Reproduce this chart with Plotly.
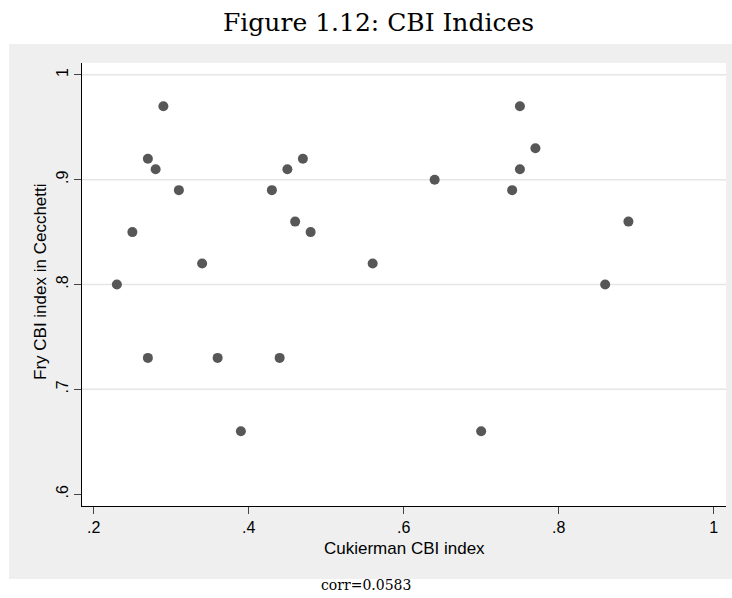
import plotly.graph_objects as go

# Central bank independence: Cukierman index vs. Fry index (Cecchetti)
cukierman = [0.23, 0.25, 0.27, 0.27, 0.28, 0.29, 0.31, 0.34, 0.36, 0.39,
             0.43, 0.44, 0.45, 0.46, 0.47, 0.48, 0.56, 0.64, 0.70, 0.74,
             0.75, 0.75, 0.77, 0.86, 0.89]
fry = [0.80, 0.85, 0.92, 0.73, 0.91, 0.97, 0.89, 0.82, 0.73, 0.66,
       0.89, 0.73, 0.91, 0.86, 0.92, 0.85, 0.82, 0.90, 0.66, 0.89,
       0.97, 0.91, 0.93, 0.80, 0.86]

x_ticks = [0.2, 0.4, 0.6, 0.8, 1.0]
x_tick_text = [".2", ".4", ".6", ".8", "1"]
y_ticks = [0.6, 0.7, 0.8, 0.9, 1.0]
y_tick_text = [".6", ".7", ".8", ".9", "1"]
y_grid = [0.7, 0.8, 0.9, 1.0]

title_text = "Figure 1.12: CBI Indices"
x_title = "Cukierman CBI index"
y_title = "Fry CBI index in Cecchetti"
caption = "corr=0.0583"

W, H = 732, 598
L, R, T, B = 82, 6, 63, 92
PW, PH = W - L - R, H - T - B


def px(x):
    return (x - L) / PW


def py(y):
    return (H - B - y) / PH


SANS = "Liberation Sans, Arial, sans-serif"
SERIF = "DejaVu Serif, serif"

fig = go.Figure()
fig.add_trace(go.Scatter(
    x=cukierman, y=fry, mode="markers",
    marker=dict(size=10, color="#575757", line=dict(width=0)),
    hoverinfo="x+y", showlegend=False,
))

shapes = [
    # grey graph region
    dict(type="rect", xref="paper", yref="paper", layer="below",
         x0=px(9), x1=px(733), y0=py(579), y1=py(44),
         fillcolor="#efefef", line=dict(width=0)),
    # white plot region
    dict(type="rect", xref="paper", yref="paper", layer="below",
         x0=0, x1=1, y0=0, y1=1, fillcolor="white", line=dict(width=0)),
]
for g in y_grid:
    shapes.append(dict(type="line", xref="paper", yref="y", layer="below",
                       x0=0, x1=1, y0=g, y1=g,
                       line=dict(color="#e6e6e6", width=1.5)))

fig.update_layout(
    width=W, height=H,
    margin=dict(l=L, r=R, t=T, b=B, pad=0),
    paper_bgcolor="white", plot_bgcolor="white",
    shapes=shapes,
    xaxis=dict(range=[0.185, 1.0159], tickvals=x_ticks, ticktext=x_tick_text,
               showgrid=False, zeroline=False, showline=True,
               linecolor="black", linewidth=1.2,
               ticks="outside", ticklen=7, tickwidth=1, tickcolor="#444",
               tickfont=dict(family=SANS, size=16, color="black")),
    yaxis=dict(range=[0.5887, 1.0113], tickvals=y_ticks, ticktext=y_tick_text,
               showgrid=False, zeroline=False, showline=True,
               linecolor="black", linewidth=1.2,
               ticks="outside", ticklen=7, tickwidth=1, tickcolor="#444",
               tickangle=-90,
               tickfont=dict(family=SANS, size=16, color="black")),
    annotations=[
        dict(text=title_text, xref="paper", yref="paper",
             x=px(378), y=py(22), xanchor="center", yanchor="middle",
             showarrow=False, font=dict(family=SERIF, size=25, color="black")),
        dict(text=x_title, xref="paper", yref="paper",
             x=px(404), y=py(548), xanchor="center", yanchor="middle",
             showarrow=False, font=dict(family=SANS, size=17, color="black")),
        dict(text=y_title, xref="paper", yref="paper", textangle=-90,
             x=px(40), y=py(282), xanchor="center", yanchor="middle",
             showarrow=False, font=dict(family=SANS, size=17, color="black")),
        dict(text=caption, xref="paper", yref="paper",
             x=px(366), y=py(585), xanchor="center", yanchor="middle",
             showarrow=False, font=dict(family=SERIF, size=14, color="black")),
    ],
)

fig.write_html("out.html")
